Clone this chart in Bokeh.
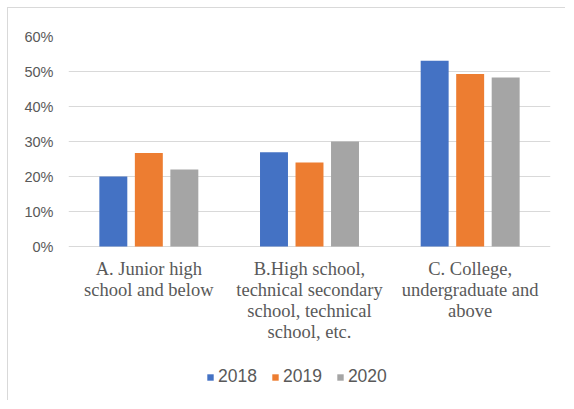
from bokeh.plotting import figure
from bokeh.models import Range1d, FixedTicker, NumeralTickFormatter, Legend, LegendItem, ColumnDataSource
from bokeh.core.properties import value
from bokeh.embed import file_html
from bokeh.resources import INLINE

categories = [
    "A. Junior high\nschool and below",
    "B.High school,\ntechnical secondary\nschool, technical\nschool, etc.",
    "C. College,\nundergraduate and\nabove",
]
years = ["2018", "2019", "2020"]
v2018 = [0.200, 0.269, 0.531]
v2019 = [0.267, 0.240, 0.493]
v2020 = [0.220, 0.300, 0.483]
y_ticks = [0.0, 0.1, 0.2, 0.3, 0.4, 0.5, 0.6]

series = [v2018, v2019, v2020]
colors = ["#4472C4", "#ED7D31", "#A5A5A5"]
offsets = [-0.221, 0.0, 0.221]
centers = [i + 0.5 for i in range(len(categories))]

# layout: 350 px per unit on y; frame extends below 0 to hold labels and legend
px_per_unit = 350.0
H, top_b, bot_b = 393, 28, 5
frame_h = H - top_b - bot_b
y_min = 0.6 - frame_h / px_per_unit

p = figure(width=558, height=H, output_backend="svg", toolbar_location=None,
           x_range=Range1d(0, len(categories)), y_range=Range1d(y_min, 0.6),
           min_border_left=60, min_border_right=16, min_border_top=top_b, min_border_bottom=bot_b)
p.styles = {"border-left": "1px solid #d9d9d9", "border-top": "1px solid #d9d9d9",
            "margin-left": "7px", "margin-top": "7px"}
p.outline_line_color = None
p.background_fill_color = "white"
p.border_fill_color = "white"

items = []
for yr, vals, col, off in zip(years, series, colors, offsets):
    src = ColumnDataSource(dict(x=[c + off for c in centers], top=vals))
    r = p.vbar(x="x", top="top", width=0.174, bottom=0, source=src,
               fill_color=col, line_color=None)
    items.append(LegendItem(label=yr, renderers=[r]))

p.text(x=centers, y=[0] * len(centers), text=categories, y_offset=12,
       text_align="center", text_baseline="top",
       text_font=value("Liberation Serif"), text_font_size="18.5px",
       text_color="#595959", text_line_height=1.06)

p.xgrid.grid_line_color = None
p.ygrid.grid_line_color = "#d9d9d9"
p.ygrid.grid_line_width = 1
p.ygrid.ticker = FixedTicker(ticks=y_ticks)

p.yaxis.ticker = FixedTicker(ticks=y_ticks)
p.yaxis.formatter = NumeralTickFormatter(format="0%")
p.yaxis.axis_line_color = None
p.yaxis.major_tick_line_color = None
p.yaxis.minor_tick_line_color = None
p.yaxis.major_tick_out = 0
p.yaxis.major_tick_in = 0
p.yaxis.major_label_standoff = 15
p.yaxis.major_label_text_font = "Liberation Sans"
p.yaxis.major_label_text_font_size = "14.5px"
p.yaxis.major_label_text_color = "#595959"

p.xaxis.visible = False

legend = Legend(items=items, orientation="horizontal", location=(138, 9),
                padding=0, margin=0, spacing=14, label_standoff=4,
                glyph_width=8, glyph_height=8,
                border_line_color=None, background_fill_alpha=0,
                label_text_font="Liberation Sans", label_text_font_size="17.5px",
                label_text_color="#595959")
p.add_layout(legend, "center")

open("out.html", "w").write(file_html(p, INLINE))
